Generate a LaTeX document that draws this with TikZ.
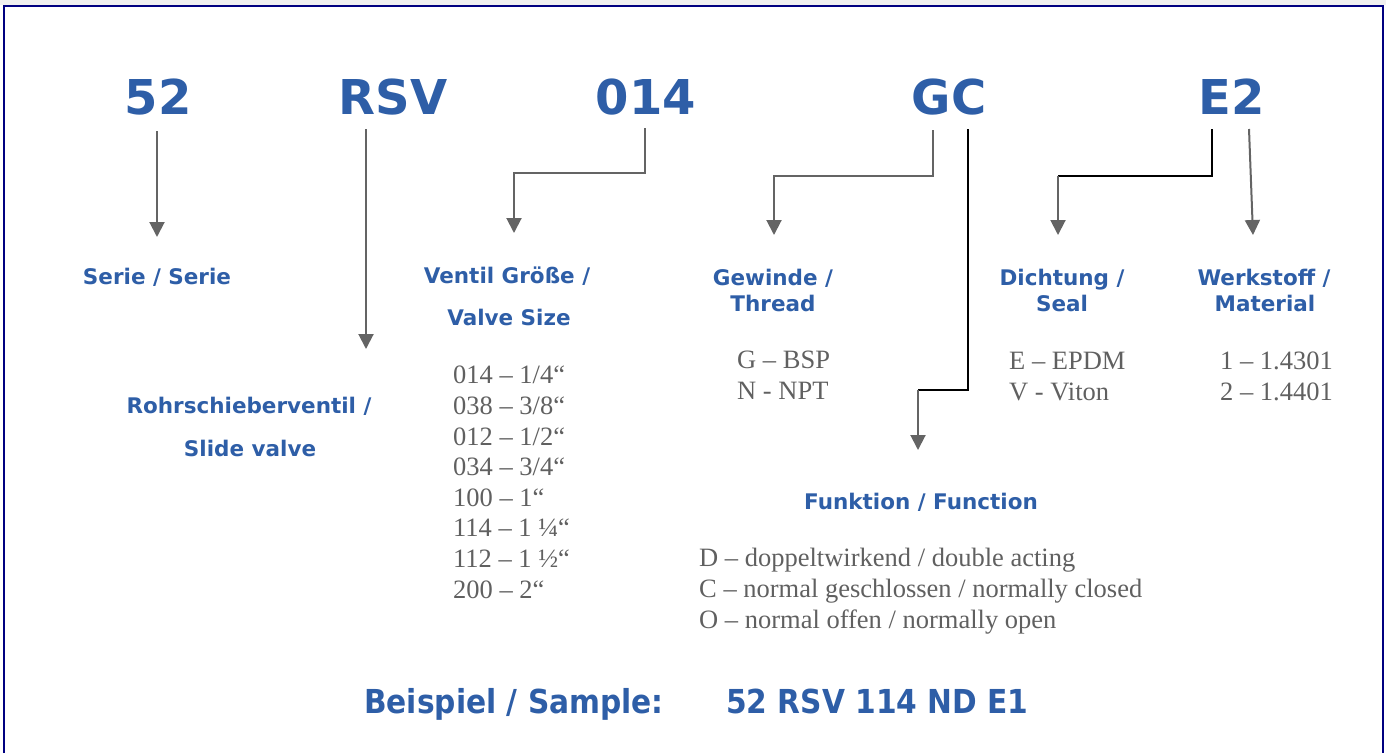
\documentclass[tikz,border=0pt]{standalone}
\usepackage{fontspec}
\setmainfont{Liberation Serif}
\newfontfamily\labelfont{DejaVu Sans}
\newfontfamily\samplefont{DejaVu Sans Condensed}
\usetikzlibrary{arrows.meta}
\definecolor{codeblue}{RGB}{46,94,167}
\definecolor{textgray}{RGB}{96,96,96}
\definecolor{arrowgray}{RGB}{100,100,100}
\definecolor{framenavy}{RGB}{0,0,128}
\begin{document}
\begin{tikzpicture}[x=1pt,y=-1pt,
  code/.style={anchor=base,inner sep=0pt,text=codeblue,font=\labelfont\bfseries\fontsize{48}{48}\selectfont},
  head/.style={anchor=base,inner sep=0pt,text=codeblue,font=\labelfont\bfseries\fontsize{21.5}{21.5}\selectfont},
  item/.style={anchor=base west,inner sep=0pt,text=textgray,align=left,font=\fontsize{26.5}{30.6}\selectfont},
  sample/.style={anchor=base west,inner sep=0pt,text=codeblue,font=\samplefont\bfseries\fontsize{33}{33}\selectfont},
  arr/.style={draw=arrowgray,line width=2pt,-{Triangle[width=15pt,length=15pt]}},
  elbow/.style={draw=black,line width=2.5pt}]
\useasboundingbox (0,0) rectangle (1386,753);
\fill[gray!12] (0,0) rectangle (1386,5);
\draw[framenavy,line width=2.5pt] (4,753) -- (4,6) -- (1383,6) -- (1383,753);

% code letters
\node[code] (n52) at (158,114) {52};
\node[code] (nrsv) at (393,114) {RSV};
\node[code] (n014) at (646,114) {014};
\node[code] (ngc) at (949,114) {GC};
\node[code] (ne2) at (1232,114) {E2};

% headings
\node[head] (serie) at (157,284) {Serie / Serie};
\node[head] (rohr) at (249,413) {Rohrschieberventil /};
\node[head] (slide) at (250,456) {Slide valve};
\node[head] (ventil) at (507,283) {Ventil Größe /};
\node[head] (vsize) at (509,325) {Valve Size};
\node[head] (gewinde) at (773,285) {Gewinde /};
\node[head] (thread) at (773,311) {Thread};
\node[head] (dicht) at (1062,285) {Dichtung /};
\node[head] (seal) at (1062,311) {Seal};
\node[head] (werk) at (1264,285) {Werkstoff /};
\node[head] (mat) at (1265,311) {Material};
\node[head] (funk) at (921,509) {Funktion / Function};

% value lists (placed at the baseline of their last line)
\node[item] (sizes) at (453,598) {014 – 1/4“\\038 – 3/8“\\012 – 1/2“\\034 – 3/4“\\100 – 1“\\114 – 1 ¼“\\112 – 1 ½“\\200 – 2“};
\node[item] (threads) at (737,399) {G – BSP\\N - NPT};
\node[item] (seals) at (1009,400) {E – EPDM\\V - Viton};
\node[item] (mats) at (1220,400) {1 – 1.4301\\2 – 1.4401};
\node[item] (funcs) at (699,628) {D – doppeltwirkend / double acting\\C – normal geschlossen / normally closed\\O – normal offen / normally open};

% sample line
\node[sample] (bsp) at (364,713) {Beispiel / Sample:};
\node[sample] (bspcode) at (726,713) {52 RSV 114 ND E1};

% connectors
\coordinate (t52) at (157,237);
\coordinate (trsv) at (366,349);
\coordinate (t014) at (514,233);
\coordinate (tgc) at (774,235);
\coordinate (kfunk) at (918,390);
\coordinate (tfunk) at (918,450);
\coordinate (kseal) at (1058,176);
\coordinate (tseal) at (1058,235);
\coordinate (tmat) at (1253,235);
\draw[arr] (157,131) -- (t52);
\draw[arr] (366,129) -- (trsv);
\draw[arr] (645,128) -- (645,173) -- (514,173) -- (t014);
\draw[arr] (933,130) -- (933,176) -- (774,176) -- (tgc);
\draw[elbow] (968,129) -- (968,390) -- (kfunk);
\draw[arr] (kfunk) -- (tfunk);
\draw[elbow] (1212,129) -- (1212,176) -- (kseal);
\draw[arr] (kseal) -- (tseal);
\draw[arr] (1249,129) -- (tmat);
\end{tikzpicture}
\end{document}
